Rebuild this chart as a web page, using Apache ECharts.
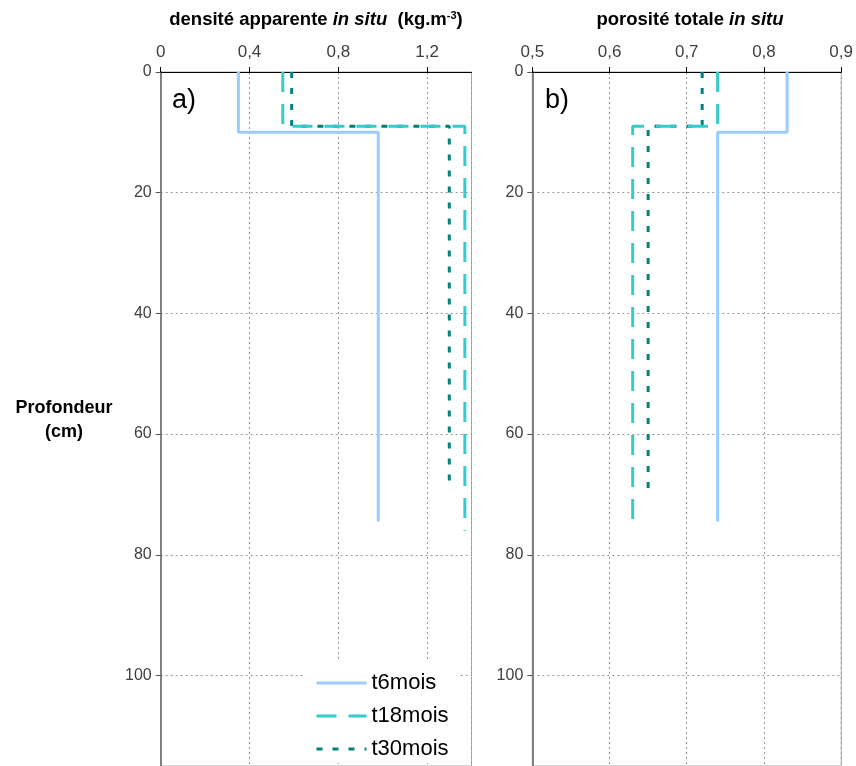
<!DOCTYPE html>
<html><head><meta charset="utf-8">
<script src="https://cdn.jsdelivr.net/npm/echarts@6/dist/echarts.min.js"></script>
<style>html,body{margin:0;padding:0;background:#fff}#c{width:856px;height:766px}</style>
</head><body><div id="c"></div>
<script>
// Data
var seriesNames = ['t6mois', 't18mois', 't30mois'];
// panel a: bulk density (upper layer value, lower layer value)
var densiteTop = [0.35, 0.55, 0.59];
var densiteBottom = [0.98, 1.37, 1.30];
// panel b: total porosity
var porositeTop = [0.83, 0.74, 0.72];
var porositeBottom = [0.74, 0.63, 0.65];
// depths (cm): layer break and profile end
var depthBreak = [10, 9, 9];
var depthEnd = [74.5, 76, 69];
var densiteTicks = [0, 0.4, 0.8, 1.2];
var porositeTicks = [0.5, 0.6, 0.7, 0.8, 0.9];
var depthTicks = [0, 20, 40, 60, 80, 100];

var colors = ['#99CCFF', '#33CCCC', '#008080'];
var dashes = ['solid', [20, 12], [6, 10]];
var FONT = 'Liberation Sans, Arial';

function profile(top, bottom, i) {
  return [[top[i], 0], [top[i], depthBreak[i]], [bottom[i], depthBreak[i]], [bottom[i], depthEnd[i]]];
}

var series = [];
for (var i = 0; i < 3; i++) {
  series.push({name: seriesNames[i], type: 'line', xAxisIndex: 0, yAxisIndex: 0, symbol: 'none',
    data: profile(densiteTop, densiteBottom, i), z: 5 - i,
    lineStyle: {color: colors[i], width: 3, type: dashes[i], cap: 'butt'}, itemStyle: {color: colors[i]}});
}
for (var i = 0; i < 3; i++) {
  series.push({name: seriesNames[i], type: 'line', xAxisIndex: 1, yAxisIndex: 1, symbol: 'none',
    data: profile(porositeTop, porositeBottom, i), z: 5 - i,
    lineStyle: {color: colors[i], width: 3, type: dashes[i], cap: 'butt'}, itemStyle: {color: colors[i]}});
}

var fmt = function (v) { return String(Math.round(v * 10) / 10).replace('.', ','); };
function xAx(idx, min, max, interval) {
  return {type: 'value', gridIndex: idx, position: 'top', min: min, max: max, interval: interval,
    axisLine: {show: true, onZero: false, lineStyle: {color: '#000', width: 1}},
    axisTick: {show: true, length: 5, lineStyle: {color: '#000'}},
    axisLabel: {show: true, showMaxLabel: idx === 1, margin: 11, fontSize: 17, color: '#404040', fontFamily: FONT, formatter: fmt},
    splitLine: {show: true, lineStyle: {color: '#999', width: 1, type: [2, 3]}}};
}
function yAx(idx) {
  return {type: 'value', gridIndex: idx, inverse: true, min: 0, max: 115, interval: 20,
    axisLine: {show: true, onZero: false, lineStyle: {color: '#808080', width: 2}},
    axisTick: {show: true, length: 5, lineStyle: {color: '#555'}},
    axisLabel: {show: true, showMaxLabel: false, margin: 9, fontSize: 16, color: '#404040', fontFamily: FONT},
    splitLine: {show: true, lineStyle: {color: '#999', width: 1, type: [2, 3]}}};
}

var chart = echarts.init(document.getElementById('c'), null, {renderer: 'canvas'});
chart.setOption({
  animation: false,
  backgroundColor: '#fff',
  grid: [
    {left: 160.7, right: 384.5, top: 72, bottom: 0, show: true, borderColor: '#aaa', borderWidth: 1},
    {left: 532.3, right: 14, top: 72, bottom: 0, show: true, borderColor: '#aaa', borderWidth: 1}
  ],
  xAxis: [xAx(0, 0, 1.4, 0.4), xAx(1, 0.5, 0.9, 0.1)],
  yAxis: [yAx(0), yAx(1)],
  legend: {
    data: seriesNames, orient: 'vertical', left: 305, top: 660, padding: [11, 10, 2, 10],
    backgroundColor: '#fff', itemWidth: 50, itemHeight: 14, itemGap: 9,
    itemStyle: {opacity: 0},
    lineStyle: {width: 3},
    textStyle: {fontSize: 22, color: '#000', fontFamily: FONT, lineHeight: 24, padding: [0, 0, 0, 0]}
  },
  graphic: [
    {type: 'text', x: 316, y: 20, style: {
      text: '{b|densité apparente }{i|in situ}{b|  (kg.m}{s|-3}{b|)}',
      align: 'center', verticalAlign: 'middle',
      rich: {b: {fontSize: 18.5, fontWeight: 'bold', fontFamily: FONT, fill: '#000'},
             i: {fontSize: 18.5, fontWeight: 'bold', fontStyle: 'italic', fontFamily: FONT, fill: '#000'},
             s: {fontSize: 11, fontWeight: 'bold', fontFamily: FONT, fill: '#000', verticalAlign: 'top', padding: [0, 0, 9, 0]}}}},
    {type: 'text', x: 690, y: 20, style: {
      text: '{b|porosité totale }{i|in situ}', align: 'center', verticalAlign: 'middle',
      rich: {b: {fontSize: 18.5, fontWeight: 'bold', fontFamily: FONT, fill: '#000'},
             i: {fontSize: 18.5, fontWeight: 'bold', fontStyle: 'italic', fontFamily: FONT, fill: '#000'}}}},
    {type: 'text', x: 64, y: 420, style: {text: 'Profondeur\n(cm)', align: 'center', verticalAlign: 'middle',
      fontSize: 18, fontWeight: 'bold', lineHeight: 24, fontFamily: FONT, fill: '#000'}},
    {type: 'text', x: 172, y: 101, style: {text: 'a)', verticalAlign: 'middle', fontSize: 27, fontFamily: FONT, fill: '#000'}},
    {type: 'text', x: 545, y: 101, style: {text: 'b)', verticalAlign: 'middle', fontSize: 27, fontFamily: FONT, fill: '#000'}}
  ],
  series: series
});
</script></body></html>
